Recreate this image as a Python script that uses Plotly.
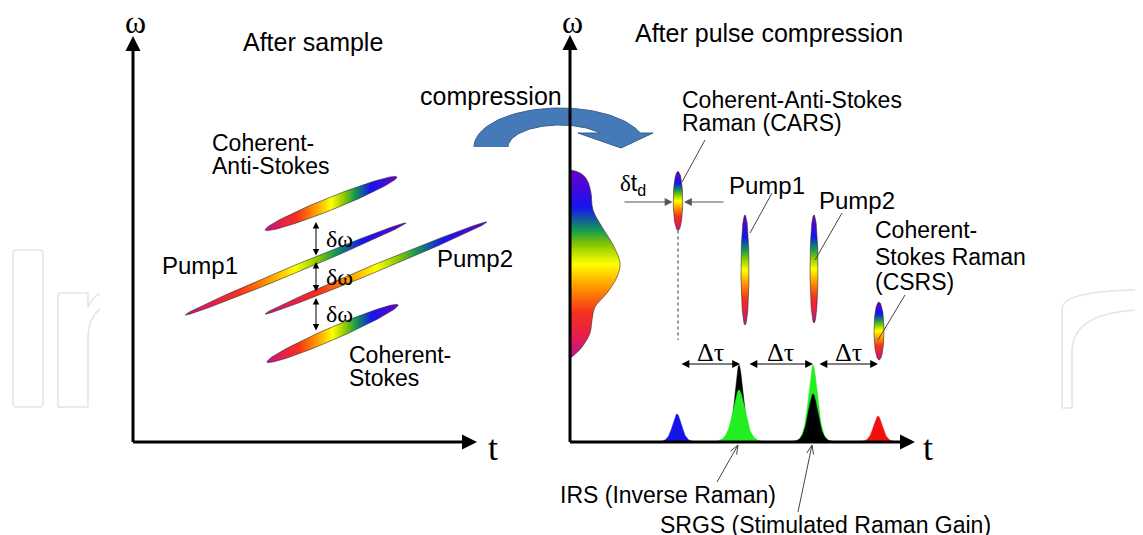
import numpy as np
import plotly.graph_objects as go

# ---------------- data ----------------
# Left panel (after sample): chirped pulses in (t, omega) units
left_names = ["Coherent-Anti-Stokes", "Pump1", "Pump2", "Coherent-Stokes"]
left_t = [19.8, 16.25, 24.3, 19.95]
left_w = [23.85, 17.3, 17.4, 10.85]
left_length = [14.2, 23.9, 24.0, 14.3]
left_thick = [1.25, 0.75, 0.75, 1.25]
left_tilt = [21.9, 22.6, 22.5, 23.5]

# delta-omega spacing markers (omega top, omega bottom)
dw_top = [22.0, 18.0, 14.4]
dw_bot = [18.5, 14.9, 11.0]
dw_t = 18.3

# Right panel (after pulse compression): compressed pulses
right_names = ["CARS", "Pump1", "Pump2", "CSRS"]
right_t = [10.8, 17.5, 24.4, 30.9]
right_w = [24.1, 17.2, 17.3, 11.1]
right_dw = [5.9, 11.0, 10.8, 5.8]
right_dt = [0.95, 0.8, 0.8, 1.0]

# Input spectrum on the omega axis
spec_w = [8.4, 8.6, 9.5, 10.9, 12.2, 13.5, 14.9, 16.5, 17.9, 19.9, 21.5, 23.2, 24.9, 26.0, 26.6, 27.0, 27.2]
spec_a = [0.0, 0.3, 1.2, 2.0, 2.2, 2.5, 3.7, 4.7, 5.0, 4.2, 3.2, 2.3, 2.1, 1.8, 1.4, 0.8, 0.0]

# Time-domain peaks
peak_t = [10.7, 16.9, 16.9, 24.3, 24.3, 30.8]
peak_h = [2.8, 7.7, 5.2, 7.7, 4.8, 2.6]
peak_wd = [0.6, 0.55, 0.8, 0.6, 0.65, 0.6]
peak_colors = ["#1414E6", "#000000", "#22EE22", "#22EE22", "#000000", "#F01010"]

# Delta-tau spacing
tau_start = [11.0, 17.8, 24.8]
tau_end = [17.0, 24.3, 30.8]

RAINBOW = [[0.0, '#C0138F'], [0.12, '#E81E4A'], [0.24, '#F5301E'], [0.36, '#FF8A00'],
           [0.5, '#FFFF00'], [0.6, '#8CC800'], [0.68, '#139A50'], [0.8, '#1515F0'],
           [1.0, '#6A00C8']]

SANS = "Liberation Sans, Arial, sans-serif"
SERIF = "Liberation Serif, Times New Roman, serif"


def ellipse(cx, cy, length, thick, ang_deg, n=140):
    th = np.linspace(0, 2 * np.pi, n)
    a, b = length / 2, thick / 2
    ex, ey = a * np.cos(th), b * np.sin(th)
    r = np.deg2rad(ang_deg)
    return cx + ex * np.cos(r) - ey * np.sin(r), cy + ex * np.sin(r) + ey * np.cos(r)


fig = go.Figure()

# --- watermark (faint outlines) ---
wm = dict(type="path", xref="x", yref="y", line=dict(color="#E4E4E4", width=1.5), layer="below")
shapes = [
    dict(wm, path="M -12.0,3.8 L -12.0,18.9 Q -12.0,19.2 -11.7,19.2 L -9.3,19.2 Q -9.0,19.2 -9.0,18.9 "
                  "L -9.0,3.8 Q -9.0,3.5 -9.3,3.5 L -11.7,3.5 Q -12.0,3.5 -12.0,3.8 Z"),
    dict(wm, path="M -7.5,3.5 L -7.5,14.6 Q -7.5,14.9 -7.2,14.9 L -4.5,14.9 L -4.5,13.5 "
                  "Q -4.0,14.6 -3.3,14.8 M -4.5,3.5 L -4.5,10.5 Q -4.5,12.3 -3.3,13.3 M -7.5,3.5 L -4.5,3.5"),
    dict(wm, path="M 92.9,3.4 L 92.9,13.3 Q 92.9,15.2 101.5,15.2 M 93.9,3.4 L 93.9,9.0 "
                  "Q 93.9,13.2 101.5,13.2 M 92.9,3.4 L 93.9,3.4"),
]

# --- compression arrow (left panel coords) ---
cx, cy = 42.7, 29.5
ao, bo, ai, bi = 8.6, 3.9, 5.2, 2.2
ye = 30.9
to = np.arcsin((ye - cy) / bo)
ti = np.arcsin((ye - cy) / bi)
th_o = np.linspace(np.pi, to, 60)
th_i = np.linspace(ti, np.pi, 60)
arr_x = list(cx + ao * np.cos(th_o)) + [52.0, 48.8, 44.5] + list(cx + ai * np.cos(th_i))
arr_y = list(cy + bo * np.sin(th_o)) + [ye, 29.4, ye] + list(cy + bi * np.sin(th_i))
fig.add_trace(go.Scatter(x=arr_x, y=arr_y, mode="lines", fill="toself", fillcolor="#4679B8",
                         line=dict(color="#35608F", width=1), hoverinfo="skip", showlegend=False))

# --- left panel pulses ---
for i in range(len(left_names)):
    ex, ey = ellipse(left_t[i], left_w[i], left_length[i], left_thick[i], left_tilt[i])
    fig.add_trace(go.Scatter(x=ex, y=ey, mode="lines", fill="toself",
                             fillgradient=dict(type="horizontal", colorscale=RAINBOW),
                             line=dict(color="#2A2A2A", width=0.6), hoverinfo="skip",
                             showlegend=False))

# --- right panel spectrum ---
fig.add_trace(go.Scatter(x=spec_a, y=spec_w, mode="lines", fill="toself", line_shape="spline",
                         fillgradient=dict(type="vertical", colorscale=RAINBOW),
                         line=dict(color="#3A2A2A", width=0.6), hoverinfo="skip",
                         showlegend=False, xaxis="x2", yaxis="y2"))

# --- right panel compressed pulses ---
for i in range(len(right_names)):
    ex, ey = ellipse(right_t[i], right_w[i], right_dw[i], right_dt[i], 90)
    fig.add_trace(go.Scatter(x=ex, y=ey, mode="lines", fill="toself",
                             fillgradient=dict(type="vertical", colorscale=RAINBOW),
                             line=dict(color="#2A2A2A", width=0.6), hoverinfo="skip",
                             showlegend=False, xaxis="x2", yaxis="y2"))

# dotted guide below CARS pulse
fig.add_trace(go.Scatter(x=[right_t[0], right_t[0]], y=[right_w[0] - right_dw[0] / 2, 10.2],
                         mode="lines", line=dict(color="#333", width=1, dash="dot"),
                         hoverinfo="skip", showlegend=False, xaxis="x2", yaxis="y2"))

# --- peaks ---
for i in range(len(peak_t)):
    xs = np.linspace(peak_t[i] - 4 * peak_wd[i], peak_t[i] + 4 * peak_wd[i], 120)
    ys = peak_h[i] / np.cosh((xs - peak_t[i]) / peak_wd[i]) ** 2
    fig.add_trace(go.Scatter(x=np.r_[xs, xs[::-1]], y=np.r_[ys, np.zeros_like(xs)], mode="lines",
                             fill="toself", fillcolor=peak_colors[i],
                             line=dict(color=peak_colors[i], width=0.5), hoverinfo="skip",
                             showlegend=False, xaxis="x2", yaxis="y2"))

# --- label leader lines (right panel) ---
leaders = [((13.5, 30.2), (11.2, 26.0)), ((20.2, 24.9), (18.0, 20.9)),
           ((27.2, 22.9), (24.5, 18.2)), ((33.5, 14.7), (30.8, 10.2))]
for (x0, y0), (x1, y1) in leaders:
    fig.add_trace(go.Scatter(x=[x0, x1], y=[y0, y1], mode="lines", line=dict(color="#444", width=1),
                             hoverinfo="skip", showlegend=False, xaxis="x2", yaxis="y2"))

# --- IRS / SRGS pointers with open V heads ---
pointers = [((14.7, -4.0), (16.8, -0.3)), ((22.8, -7.0), (24.2, -0.3))]
for (x0, y0), (x1, y1) in pointers:
    d = np.array([x1 - x0, y1 - y0])
    d = d / np.hypot(*d)
    nrm = np.array([-d[1], d[0]])
    back = np.array([x1, y1]) - 0.9 * d
    p1 = back + 0.35 * nrm
    p2 = back - 0.35 * nrm
    fig.add_trace(go.Scatter(x=[x0, x1, None, p1[0], x1, p2[0]], y=[y0, y1, None, p1[1], y1, p2[1]],
                             mode="lines", line=dict(color="#444", width=1), hoverinfo="skip",
                             showlegend=False, xaxis="x2", yaxis="y2"))

ann = []


def arrow(x, y, ax, ay, ref, width=3, size=1.0, head=2, color="black", side="end"):
    xr, yr = ("x", "y") if ref == 1 else ("x2", "y2")
    ann.append(dict(x=x, y=y, ax=ax, ay=ay, xref=xr, yref=yr, axref=xr, ayref=yr, text="",
                    showarrow=True, arrowhead=head, arrowsize=size, arrowwidth=width,
                    arrowcolor=color, standoff=0, startstandoff=0, arrowside=side,
                    startarrowhead=head, startarrowsize=size))


def text(x, y, s, ref, size=23, family=SANS, xanchor="left"):
    xr, yr = ("x", "y") if ref == 1 else ("x2", "y2")
    ann.append(dict(x=x, y=y, xref=xr, yref=yr, text=s, showarrow=False, xanchor=xanchor,
                    yanchor="middle", font=dict(family=family, size=size, color="black")))


# axes
arrow(0, 40.6, 0, -0.15, 1)
arrow(34.4, 0, -0.15, 0, 1)
arrow(0, 40.7, 0, -0.15, 2)
arrow(34.5, 0, -0.15, 0, 2)

# delta omega arrows
for a, b in zip(dw_top, dw_bot):
    arrow(dw_t, a, dw_t, b, 1, width=1, size=1.3, side="end+start")

# delta tau arrows
for a, b in zip(tau_start, tau_end):
    arrow(b, 7.8, a, 7.8, 2, width=1.2, size=1.3, side="end+start")

# delta t_d arrows
arrow(10.25, 24.0, 5.3, 24.0, 2, width=1.2, size=1.3, color="#555")
arrow(11.4, 24.0, 15.5, 24.0, 2, width=1.2, size=1.3, color="#555")

# left texts
text(0.2, 42.0, "ω", 1, size=32, family=SERIF, xanchor="center")
text(36.0, -0.6, "t", 1, size=36, family=SERIF, xanchor="center")
text(18.0, 40.0, "After sample", 1, size=25, xanchor="center")
text(7.7, 29.9, "Coherent-", 1)
text(7.7, 27.6, "Anti-Stokes", 1)
text(2.7, 17.7, "Pump1", 1, size=24)
text(30.2, 18.4, "Pump2", 1, size=24)
text(21.4, 8.7, "Coherent-", 1)
text(21.4, 6.4, "Stokes", 1)
text(28.5, 34.6, "compression", 1, size=25)
for a, b in zip(dw_top, dw_bot):
    text(dw_t + 0.8, (a + b) / 2 + 0.1, "δω", 1, size=24, family=SERIF)

# right texts
text(0.2, 42.0, "ω", 2, size=32, family=SERIF, xanchor="center")
text(35.8, -0.6, "t", 2, size=36, family=SERIF, xanchor="center")
text(19.85, 40.9, "After pulse compression", 2, size=25, xanchor="center")
text(11.0, 34.2, "Coherent-Anti-Stokes", 2)
text(11.0, 31.9, "Raman (CARS)", 2)
text(4.8, 25.8, "<span style='font-family:Liberation Serif'>δ</span>t<sub>d</sub>", 2, size=23)
text(15.7, 25.7, "Pump1", 2, size=24)
text(24.7, 24.2, "Pump2", 2, size=24)
text(30.3, 21.2, "Coherent-", 2)
text(30.3, 18.5, "Stokes Raman", 2)
text(30.3, 16.0, "(CSRS)", 2)
for a, b in zip(tau_start, tau_end):
    text((a + b) / 2, 9.0, "Δτ", 2, size=26, family=SERIF, xanchor="center")
text(-1.2, -5.3, "IRS (Inverse Raman)", 2)
text(8.8, -8.3, "SRGS (Stimulated Raman Gain)", 2)

# page body has an 8px margin: figure is 8px smaller and ranges compensate (10 px per unit)
fig.update_layout(
    width=1135, height=527, autosize=False,
    margin=dict(l=0, r=0, t=0, b=0, pad=0),
    paper_bgcolor="white", plot_bgcolor="white",
    showlegend=False,
    xaxis=dict(domain=[0, 1], range=[-12.5, 101.0], visible=False, fixedrange=True),
    yaxis=dict(domain=[0, 1], range=[-9.3, 43.4], visible=False, fixedrange=True),
    xaxis2=dict(domain=[0, 1], range=[-56.2, 57.3], visible=False, anchor="y2", overlaying="x",
                fixedrange=True),
    yaxis2=dict(domain=[0, 1], range=[-9.3, 43.4], visible=False, anchor="x2", overlaying="y",
                fixedrange=True),
    annotations=ann,
    shapes=shapes,
)

fig.write_html("out.html")
